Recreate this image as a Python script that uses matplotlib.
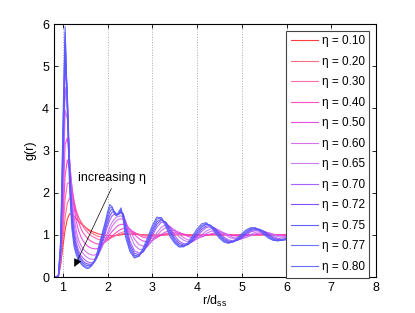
import numpy as np
import matplotlib
matplotlib.use('Agg')
import matplotlib.pyplot as plt

plt.rcParams['font.family'] = ['Liberation Sans', 'DejaVu Sans']
plt.rcParams['mathtext.fontset'] = 'custom'
plt.rcParams['mathtext.rm'] = 'Liberation Sans'
plt.rcParams['mathtext.it'] = 'Liberation Sans:italic'

# r/d_ss sample points
r = [0.85, 0.90, 0.95, 1.00, 1.05, 1.10, 1.15, 1.20,
     1.25, 1.30, 1.35, 1.40, 1.45, 1.50, 1.55, 1.60,
     1.65, 1.70, 1.75, 1.80, 1.85, 1.90, 1.95, 2.00,
     2.05, 2.10, 2.15, 2.20, 2.25, 2.30, 2.35, 2.40,
     2.5, 2.6, 2.7, 2.8, 2.9, 3.0, 3.1, 3.2, 3.3,
     3.4, 3.5, 3.6, 3.7, 3.8, 3.9, 4.0, 4.1, 4.2,
     4.3, 4.4, 4.5, 4.6, 4.7, 4.8, 4.9, 5.0, 5.1,
     5.2, 5.3, 5.4, 5.5, 5.6, 5.7, 5.8, 5.9, 6.0]

eta = [0.10, 0.20, 0.30, 0.40, 0.50, 0.60, 0.65, 0.70, 0.72, 0.75, 0.77, 0.80]

g_010 = [0.00, 0.02, 0.28, 0.72, 1.12, 1.38, 1.50, 1.49,
         1.44, 1.38, 1.32, 1.27, 1.22, 1.18, 1.14, 1.11,
         1.08, 1.06, 1.04, 1.02, 1.01, 1.00, 0.99, 0.98,
         0.98, 0.98, 0.98, 0.99, 0.99, 1.00, 1.01, 1.01,
         1.02, 1.01, 1.01, 1.00, 1.00, 1.00, 1.00, 1.00, 1.00,
         1.00, 1.00, 1.00, 1.00, 1.00, 1.00, 1.00, 1.00, 1.00,
         1.00, 1.00, 1.00, 1.00, 1.00, 1.00, 1.00, 1.00, 1.00,
         1.00, 1.00, 1.00, 1.00, 1.00, 1.00, 1.00, 1.00, 1.00]
g_020 = [0.00, 0.02, 0.32, 0.90, 1.42, 1.76, 1.87, 1.80,
         1.66, 1.52, 1.41, 1.32, 1.24, 1.18, 1.12, 1.08,
         1.04, 1.01, 0.98, 0.96, 0.95, 0.94, 0.93, 0.93,
         0.94, 0.95, 0.97, 0.99, 1.00, 1.02, 1.03, 1.04,
         1.04, 1.03, 1.01, 1.00, 0.99, 0.98, 0.98, 0.99, 1.00,
         1.01, 1.01, 1.01, 1.00, 1.00, 1.00, 1.00, 1.00, 1.00,
         1.00, 1.00, 1.00, 1.00, 1.00, 1.00, 1.00, 1.00, 1.00,
         1.00, 1.00, 1.00, 1.00, 1.00, 1.00, 1.00, 1.00, 1.00]
g_030 = [0.00, 0.02, 0.36, 1.10, 1.85, 2.22, 2.25, 2.05,
         1.80, 1.58, 1.42, 1.30, 1.20, 1.12, 1.06, 1.01,
         0.97, 0.94, 0.91, 0.89, 0.88, 0.87, 0.88, 0.89,
         0.91, 0.94, 0.97, 1.00, 1.03, 1.05, 1.07, 1.08,
         1.08, 1.05, 1.01, 0.98, 0.96, 0.96, 0.97, 0.99, 1.01,
         1.02, 1.02, 1.02, 1.01, 1.00, 0.99, 0.99, 0.99, 1.00,
         1.00, 1.01, 1.01, 1.00, 1.00, 1.00, 1.00, 1.00, 1.00,
         1.00, 1.00, 1.00, 1.00, 1.00, 1.00, 1.00, 1.00, 1.00]
g_040 = [0.00, 0.02, 0.40, 1.35, 2.40, 2.78, 2.55, 2.15,
         1.78, 1.50, 1.30, 1.16, 1.05, 0.98, 0.92, 0.87,
         0.84, 0.81, 0.79, 0.78, 0.78, 0.80, 0.83, 0.87,
         0.92, 0.97, 1.02, 1.06, 1.10, 1.13, 1.15, 1.15,
         1.12, 1.06, 0.99, 0.94, 0.92, 0.92, 0.95, 0.99, 1.03,
         1.05, 1.05, 1.04, 1.02, 0.99, 0.97, 0.97, 0.98, 0.99,
         1.01, 1.02, 1.02, 1.01, 1.00, 0.99, 0.99, 0.99, 1.00,
         1.00, 1.00, 1.01, 1.01, 1.00, 1.00, 1.00, 1.00, 1.00]
g_050 = [0.00, 0.02, 0.45, 1.60, 3.15, 3.30, 2.75, 2.15,
         1.66, 1.31, 1.10, 0.96, 0.86, 0.79, 0.74, 0.70,
         0.68, 0.67, 0.67, 0.69, 0.73, 0.79, 0.86, 0.93,
         1.01, 1.08, 1.14, 1.19, 1.23, 1.25, 1.25, 1.23,
         1.14, 1.01, 0.91, 0.85, 0.84, 0.87, 0.93, 1.01, 1.07,
         1.10, 1.10, 1.06, 1.01, 0.96, 0.93, 0.93, 0.95, 0.99,
         1.02, 1.05, 1.05, 1.04, 1.01, 0.98, 0.97, 0.97, 0.98,
         0.99, 1.01, 1.02, 1.03, 1.02, 1.01, 1.00, 0.99, 0.99]
g_060 = [0.00, 0.02, 0.50, 1.90, 3.95, 3.75, 2.80, 2.00,
         1.43, 1.09, 0.88, 0.76, 0.67, 0.61, 0.57, 0.54,
         0.52, 0.52, 0.54, 0.59, 0.67, 0.77, 0.88, 0.99,
         1.10, 1.20, 1.28, 1.34, 1.37, 1.38, 1.36, 1.31,
         1.11, 0.90, 0.77, 0.73, 0.76, 0.85, 0.98, 1.10, 1.17,
         1.18, 1.12, 1.02, 0.93, 0.88, 0.87, 0.90, 0.96, 1.03,
         1.08, 1.10, 1.09, 1.05, 0.99, 0.94, 0.92, 0.92, 0.94,
         0.98, 1.02, 1.05, 1.06, 1.05, 1.02, 0.99, 0.97, 0.96]
g_065 = [0.00, 0.02, 0.55, 2.20, 4.50, 3.95, 2.70, 1.80,
         1.25, 0.94, 0.76, 0.64, 0.56, 0.50, 0.46, 0.43,
         0.42, 0.42, 0.46, 0.54, 0.65, 0.78, 0.92, 1.06,
         1.19, 1.30, 1.37, 1.42, 1.44, 1.45, 1.42, 1.33,
         1.00, 0.76, 0.66, 0.65, 0.73, 0.88, 1.05, 1.18, 1.24,
         1.20, 1.08, 0.95, 0.87, 0.83, 0.84, 0.90, 1.00, 1.09,
         1.14, 1.15, 1.11, 1.03, 0.95, 0.91, 0.89, 0.90, 0.95,
         1.01, 1.06, 1.08, 1.08, 1.05, 1.00, 0.96, 0.94, 0.94]
g_070 = [0.00, 0.02, 0.60, 2.50, 5.00, 4.30, 2.70, 1.66,
         1.10, 0.80, 0.63, 0.52, 0.45, 0.40, 0.36, 0.34,
         0.34, 0.37, 0.44, 0.55, 0.70, 0.87, 1.04, 1.21,
         1.35, 1.45, 1.49, 1.48, 1.49, 1.52, 1.50, 1.32,
         0.85, 0.62, 0.57, 0.61, 0.76, 0.98, 1.18, 1.30, 1.30,
         1.17, 0.98, 0.85, 0.79, 0.79, 0.84, 0.96, 1.08, 1.17,
         1.19, 1.16, 1.06, 0.95, 0.88, 0.86, 0.87, 0.92, 1.00,
         1.07, 1.10, 1.11, 1.08, 1.02, 0.96, 0.92, 0.90, 0.91]
g_072 = [0.00, 0.03, 0.65, 2.70, 5.30, 4.30, 2.55, 1.52,
         0.98, 0.72, 0.56, 0.46, 0.38, 0.33, 0.31, 0.30,
         0.31, 0.35, 0.44, 0.58, 0.75, 0.93, 1.12, 1.30,
         1.45, 1.54, 1.55, 1.49, 1.50, 1.55, 1.49, 1.22,
         0.77, 0.56, 0.53, 0.60, 0.80, 1.04, 1.25, 1.35, 1.30,
         1.12, 0.92, 0.80, 0.76, 0.77, 0.86, 1.00, 1.13, 1.21,
         1.22, 1.15, 1.02, 0.91, 0.85, 0.84, 0.87, 0.94, 1.03,
         1.10, 1.13, 1.13, 1.08, 1.00, 0.93, 0.89, 0.88, 0.89]
g_075 = [0.00, 0.03, 0.72, 3.00, 5.62, 4.20, 2.40, 1.40,
         0.88, 0.64, 0.50, 0.40, 0.33, 0.29, 0.27, 0.27,
         0.29, 0.35, 0.46, 0.62, 0.81, 1.00, 1.20, 1.39,
         1.55, 1.62, 1.55, 1.47, 1.50, 1.57, 1.46, 1.12,
         0.70, 0.51, 0.50, 0.62, 0.85, 1.10, 1.31, 1.38, 1.28,
         1.06, 0.87, 0.76, 0.74, 0.77, 0.90, 1.05, 1.18, 1.25,
         1.23, 1.12, 0.98, 0.88, 0.83, 0.83, 0.88, 0.97, 1.06,
         1.13, 1.15, 1.13, 1.06, 0.97, 0.90, 0.87, 0.87, 0.89]
g_077 = [0.00, 0.04, 0.80, 3.30, 5.80, 4.10, 2.25, 1.30,
         0.80, 0.58, 0.45, 0.36, 0.29, 0.25, 0.23, 0.24,
         0.28, 0.36, 0.49, 0.67, 0.87, 1.07, 1.27, 1.47,
         1.64, 1.66, 1.53, 1.46, 1.52, 1.60, 1.42, 1.03,
         0.64, 0.47, 0.49, 0.66, 0.90, 1.16, 1.37, 1.41, 1.25,
         1.00, 0.83, 0.73, 0.72, 0.79, 0.94, 1.09, 1.22, 1.27,
         1.22, 1.09, 0.95, 0.85, 0.81, 0.83, 0.90, 1.00, 1.09,
         1.15, 1.16, 1.12, 1.03, 0.94, 0.88, 0.86, 0.87, 0.90]
g_080 = [0.00, 0.05, 0.90, 3.60, 5.94, 3.90, 2.10, 1.15,
         0.72, 0.52, 0.40, 0.32, 0.26, 0.22, 0.20, 0.22,
         0.28, 0.38, 0.52, 0.72, 0.92, 1.12, 1.32, 1.55,
         1.72, 1.66, 1.50, 1.45, 1.55, 1.64, 1.35, 0.95,
         0.60, 0.45, 0.50, 0.70, 0.95, 1.22, 1.42, 1.40, 1.20,
         0.95, 0.80, 0.71, 0.72, 0.82, 0.98, 1.14, 1.26, 1.29,
         1.20, 1.05, 0.92, 0.83, 0.80, 0.84, 0.93, 1.03, 1.12,
         1.17, 1.17, 1.10, 1.00, 0.92, 0.87, 0.86, 0.88, 0.92]

curves = [g_010, g_020, g_030, g_040, g_050, g_060,
          g_065, g_070, g_072, g_075, g_077, g_080]
colors = ['#ff2a2a', '#ff5f7a', '#ff5fa5', '#ff3fb8', '#e83ddc', '#d660ee',
          '#c070f0', '#a050ff', '#7040ff', '#5050ff', '#6262ff', '#5a5aff']

fig = plt.figure(figsize=(4.15, 3.13), dpi=100)
ax = fig.add_axes([0.130, 0.115, 0.776, 0.808])

for e, g, c in zip(eta, curves, colors):
    ax.plot(r, g, color=c, lw=0.8, alpha=0.9, label='η = %.2f' % e)

ax.set_xlim(0.8, 8)
ax.set_ylim(0, 6)
ax.set_xticks(range(1, 9))
ax.set_yticks(range(0, 7))
ax.xaxis.grid(True, linestyle=':', color='#aaaaaa', lw=0.7)
ax.tick_params(direction='in', top=True, right=True, labelsize=9, length=3, width=0.6)
for s in ax.spines.values():
    s.set_linewidth(0.8)
ax.set_xlabel(r'r/d$_{\rm ss}$', fontsize=9, labelpad=0)
ax.set_ylabel('g(r)', fontsize=9, labelpad=4)

ax.annotate('', xy=(1.23, 0.18), xytext=(2.11, 2.16),
            arrowprops=dict(arrowstyle='-|>', color='k', lw=0.5, mutation_scale=12))
ax.text(1.33, 2.34, 'increasing η', fontsize=9, va='center')

leg = ax.legend(loc='upper right', fontsize=8.5, fancybox=False, edgecolor='#444444',
                handlelength=2.3, handletextpad=0.3, labelspacing=0.72,
                borderaxespad=0.55, borderpad=0.4, framealpha=1)
leg.get_frame().set_linewidth(0.8)

fig.savefig('out.png', dpi=100)
